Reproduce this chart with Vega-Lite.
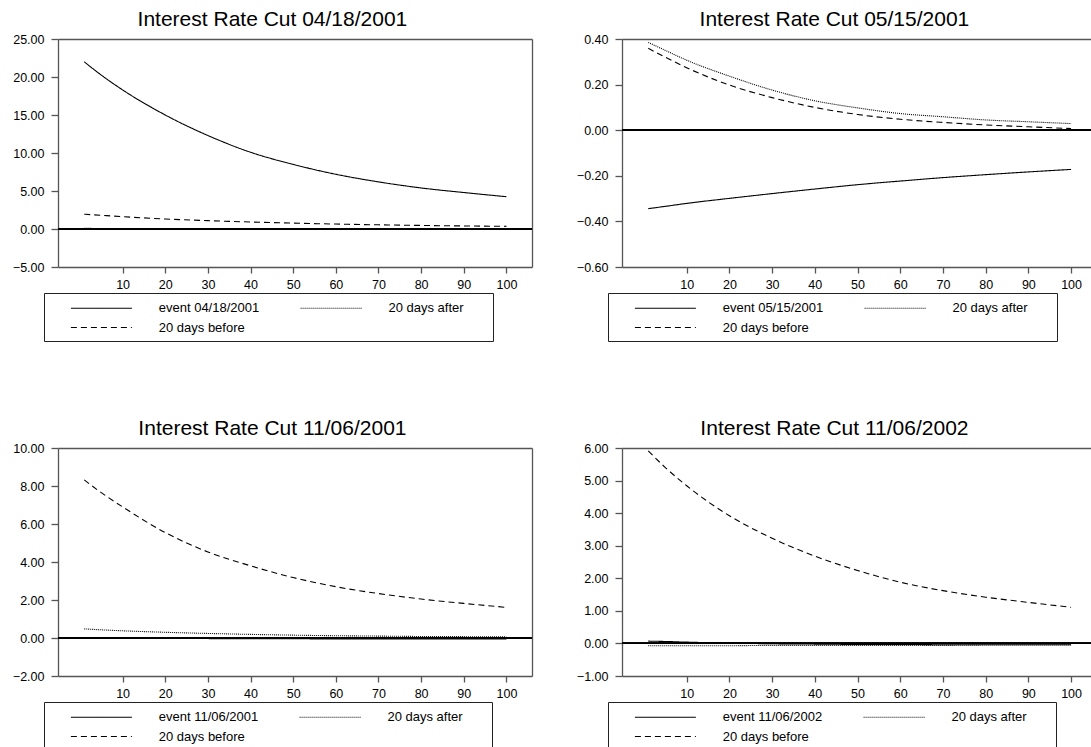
{
  "$schema": "https://vega.github.io/schema/vega-lite/v6.json",
  "background": "white",
  "padding": {"left": 12, "top": 9, "right": 0, "bottom": 0},
  "autosize": {"type": "pad"},
  "datasets": {
    "p1": [
      {"x": 1, "y": 22.0, "series": "event 04/18/2001"}, {"x": 5, "y": 20.25, "series": "event 04/18/2001"}, {"x": 10, "y": 18.3, "series": "event 04/18/2001"}, {"x": 20, "y": 15.0, "series": "event 04/18/2001"}, {"x": 30, "y": 12.3, "series": "event 04/18/2001"}, {"x": 40, "y": 10.1, "series": "event 04/18/2001"}, {"x": 50, "y": 8.5, "series": "event 04/18/2001"}, {"x": 60, "y": 7.2, "series": "event 04/18/2001"}, {"x": 70, "y": 6.2, "series": "event 04/18/2001"}, {"x": 80, "y": 5.4, "series": "event 04/18/2001"}, {"x": 90, "y": 4.8, "series": "event 04/18/2001"}, {"x": 100, "y": 4.25, "series": "event 04/18/2001"},
      {"x": 1, "y": 0.08, "series": "20 days after"}, {"x": 5, "y": 0.07, "series": "20 days after"}, {"x": 10, "y": 0.06, "series": "20 days after"}, {"x": 20, "y": 0.05, "series": "20 days after"}, {"x": 30, "y": 0.04, "series": "20 days after"}, {"x": 40, "y": 0.04, "series": "20 days after"}, {"x": 50, "y": 0.03, "series": "20 days after"}, {"x": 60, "y": 0.03, "series": "20 days after"}, {"x": 70, "y": 0.03, "series": "20 days after"}, {"x": 80, "y": 0.02, "series": "20 days after"}, {"x": 90, "y": 0.02, "series": "20 days after"}, {"x": 100, "y": 0.02, "series": "20 days after"},
      {"x": 1, "y": 1.95, "series": "20 days before"}, {"x": 5, "y": 1.8, "series": "20 days before"}, {"x": 10, "y": 1.62, "series": "20 days before"}, {"x": 20, "y": 1.32, "series": "20 days before"}, {"x": 30, "y": 1.1, "series": "20 days before"}, {"x": 40, "y": 0.92, "series": "20 days before"}, {"x": 50, "y": 0.77, "series": "20 days before"}, {"x": 60, "y": 0.65, "series": "20 days before"}, {"x": 70, "y": 0.55, "series": "20 days before"}, {"x": 80, "y": 0.47, "series": "20 days before"}, {"x": 90, "y": 0.4, "series": "20 days before"}, {"x": 100, "y": 0.35, "series": "20 days before"}
    ],
    "p2": [
      {"x": 1, "y": -0.344, "series": "event 05/15/2001"}, {"x": 5, "y": -0.334, "series": "event 05/15/2001"}, {"x": 10, "y": -0.321, "series": "event 05/15/2001"}, {"x": 20, "y": -0.299, "series": "event 05/15/2001"}, {"x": 30, "y": -0.278, "series": "event 05/15/2001"}, {"x": 40, "y": -0.258, "series": "event 05/15/2001"}, {"x": 50, "y": -0.239, "series": "event 05/15/2001"}, {"x": 60, "y": -0.223, "series": "event 05/15/2001"}, {"x": 70, "y": -0.208, "series": "event 05/15/2001"}, {"x": 80, "y": -0.195, "series": "event 05/15/2001"}, {"x": 90, "y": -0.183, "series": "event 05/15/2001"}, {"x": 100, "y": -0.172, "series": "event 05/15/2001"},
      {"x": 1, "y": 0.385, "series": "20 days after"}, {"x": 5, "y": 0.35, "series": "20 days after"}, {"x": 10, "y": 0.307, "series": "20 days after"}, {"x": 20, "y": 0.237, "series": "20 days after"}, {"x": 30, "y": 0.176, "series": "20 days after"}, {"x": 40, "y": 0.129, "series": "20 days after"}, {"x": 50, "y": 0.098, "series": "20 days after"}, {"x": 60, "y": 0.073, "series": "20 days after"}, {"x": 70, "y": 0.059, "series": "20 days after"}, {"x": 80, "y": 0.045, "series": "20 days after"}, {"x": 90, "y": 0.037, "series": "20 days after"}, {"x": 100, "y": 0.029, "series": "20 days after"},
      {"x": 1, "y": 0.359, "series": "20 days before"}, {"x": 5, "y": 0.32, "series": "20 days before"}, {"x": 10, "y": 0.274, "series": "20 days before"}, {"x": 20, "y": 0.198, "series": "20 days before"}, {"x": 30, "y": 0.143, "series": "20 days before"}, {"x": 40, "y": 0.1, "series": "20 days before"}, {"x": 50, "y": 0.069, "series": "20 days before"}, {"x": 60, "y": 0.048, "series": "20 days before"}, {"x": 70, "y": 0.034, "series": "20 days before"}, {"x": 80, "y": 0.023, "series": "20 days before"}, {"x": 90, "y": 0.015, "series": "20 days before"}, {"x": 100, "y": 0.007, "series": "20 days before"}
    ],
    "p3": [
      {"x": 1, "y": 0.02, "series": "event 11/06/2001"}, {"x": 5, "y": 0.01, "series": "event 11/06/2001"}, {"x": 10, "y": 0.0, "series": "event 11/06/2001"}, {"x": 20, "y": -0.02, "series": "event 11/06/2001"}, {"x": 30, "y": -0.03, "series": "event 11/06/2001"}, {"x": 40, "y": -0.04, "series": "event 11/06/2001"}, {"x": 50, "y": -0.04, "series": "event 11/06/2001"}, {"x": 60, "y": -0.05, "series": "event 11/06/2001"}, {"x": 70, "y": -0.05, "series": "event 11/06/2001"}, {"x": 80, "y": -0.05, "series": "event 11/06/2001"}, {"x": 90, "y": -0.05, "series": "event 11/06/2001"}, {"x": 100, "y": -0.05, "series": "event 11/06/2001"},
      {"x": 1, "y": 0.48, "series": "20 days after"}, {"x": 5, "y": 0.43, "series": "20 days after"}, {"x": 10, "y": 0.38, "series": "20 days after"}, {"x": 20, "y": 0.3, "series": "20 days after"}, {"x": 30, "y": 0.24, "series": "20 days after"}, {"x": 40, "y": 0.19, "series": "20 days after"}, {"x": 50, "y": 0.15, "series": "20 days after"}, {"x": 60, "y": 0.12, "series": "20 days after"}, {"x": 70, "y": 0.1, "series": "20 days after"}, {"x": 80, "y": 0.08, "series": "20 days after"}, {"x": 90, "y": 0.07, "series": "20 days after"}, {"x": 100, "y": 0.06, "series": "20 days after"},
      {"x": 1, "y": 8.32, "series": "20 days before"}, {"x": 5, "y": 7.65, "series": "20 days before"}, {"x": 10, "y": 6.9, "series": "20 days before"}, {"x": 20, "y": 5.55, "series": "20 days before"}, {"x": 30, "y": 4.53, "series": "20 days before"}, {"x": 40, "y": 3.8, "series": "20 days before"}, {"x": 50, "y": 3.18, "series": "20 days before"}, {"x": 60, "y": 2.7, "series": "20 days before"}, {"x": 70, "y": 2.34, "series": "20 days before"}, {"x": 80, "y": 2.05, "series": "20 days before"}, {"x": 90, "y": 1.82, "series": "20 days before"}, {"x": 100, "y": 1.61, "series": "20 days before"}
    ],
    "p4": [
      {"x": 1, "y": 0.07, "series": "event 11/06/2002"}, {"x": 5, "y": 0.06, "series": "event 11/06/2002"}, {"x": 10, "y": 0.04, "series": "event 11/06/2002"}, {"x": 20, "y": 0.01, "series": "event 11/06/2002"}, {"x": 30, "y": -0.01, "series": "event 11/06/2002"}, {"x": 40, "y": -0.02, "series": "event 11/06/2002"}, {"x": 50, "y": -0.03, "series": "event 11/06/2002"}, {"x": 60, "y": -0.03, "series": "event 11/06/2002"}, {"x": 70, "y": -0.04, "series": "event 11/06/2002"}, {"x": 80, "y": -0.04, "series": "event 11/06/2002"}, {"x": 90, "y": -0.04, "series": "event 11/06/2002"}, {"x": 100, "y": -0.04, "series": "event 11/06/2002"},
      {"x": 1, "y": -0.07, "series": "20 days after"}, {"x": 5, "y": -0.07, "series": "20 days after"}, {"x": 10, "y": -0.07, "series": "20 days after"}, {"x": 20, "y": -0.07, "series": "20 days after"}, {"x": 30, "y": -0.06, "series": "20 days after"}, {"x": 40, "y": -0.06, "series": "20 days after"}, {"x": 50, "y": -0.06, "series": "20 days after"}, {"x": 60, "y": -0.06, "series": "20 days after"}, {"x": 70, "y": -0.06, "series": "20 days after"}, {"x": 80, "y": -0.05, "series": "20 days after"}, {"x": 90, "y": -0.05, "series": "20 days after"}, {"x": 100, "y": -0.05, "series": "20 days after"},
      {"x": 1, "y": 5.91, "series": "20 days before"}, {"x": 5, "y": 5.4, "series": "20 days before"}, {"x": 10, "y": 4.84, "series": "20 days before"}, {"x": 20, "y": 3.92, "series": "20 days before"}, {"x": 30, "y": 3.23, "series": "20 days before"}, {"x": 40, "y": 2.68, "series": "20 days before"}, {"x": 50, "y": 2.24, "series": "20 days before"}, {"x": 60, "y": 1.88, "series": "20 days before"}, {"x": 70, "y": 1.62, "series": "20 days before"}, {"x": 80, "y": 1.42, "series": "20 days before"}, {"x": 90, "y": 1.26, "series": "20 days before"}, {"x": 100, "y": 1.11, "series": "20 days before"}
    ]
  },
  "columns": 2,
  "spacing": {"row": 76, "column": 43},
  "resolve": {"scale": {"strokeDash": "independent"}, "legend": {"strokeDash": "independent"}},
  "concat": [
    {
      "width": 474, "height": 228,
      "title": {"text": "Interest Rate Cut 04/18/2001"},
      "data": {"name": "p1"},
      "layer": [
        {
          "mark": {"type": "line", "color": "black", "strokeWidth": 1.1, "interpolate": "monotone"},
          "encoding": {
            "x": {"field": "x", "type": "quantitative", "scale": {"domain": [-5.15, 106], "nice": false, "zero": false}, "axis": {"orient": "bottom", "values": [10, 20, 30, 40, 50, 60, 70, 80, 90, 100], "title": null}},
            "y": {"field": "y", "type": "quantitative", "scale": {"domain": [-5, 25], "nice": false, "zero": false}, "axis": {"orient": "left", "values": [-5, 0, 5, 10, 15, 20, 25], "format": ".2f", "title": null}},
            "strokeDash": {"field": "series", "type": "nominal", "scale": {"domain": ["event 04/18/2001", "20 days after", "20 days before"], "range": [[1, 0], [1, 1], [6, 4]]}, "legend": {"orient": "none", "legendX": -14, "legendY": 254, "direction": "horizontal", "columns": 2, "gridAlign": "all", "title": "\u00a0", "titleOrient": "right", "titlePadding": 23}}
          }
        },
        {"mark": {"type": "rule", "color": "black", "strokeWidth": 1}, "encoding": {"y": {"datum": 0, "axis": null}}},
        {
          "mark": {"type": "line", "strokeOpacity": 0},
          "encoding": {
            "x": {"field": "x", "type": "quantitative", "axis": {"orient": "top", "labels": false, "ticks": false, "title": null}},
            "y": {"field": "y", "type": "quantitative", "axis": {"orient": "right", "labels": false, "ticks": false, "title": null}}
          }
        }
      ],
      "resolve": {"axis": {"x": "independent", "y": "independent"}}
    },
    {
      "width": 470, "height": 228,
      "title": {"text": "Interest Rate Cut 05/15/2001"},
      "data": {"name": "p2"},
      "layer": [
        {
          "mark": {"type": "line", "color": "black", "strokeWidth": 1.1, "interpolate": "monotone"},
          "encoding": {
            "x": {"field": "x", "type": "quantitative", "scale": {"domain": [-5.15, 104.9], "nice": false, "zero": false}, "axis": {"orient": "bottom", "values": [10, 20, 30, 40, 50, 60, 70, 80, 90, 100], "title": null}},
            "y": {"field": "y", "type": "quantitative", "scale": {"domain": [-0.6, 0.4], "nice": false, "zero": false}, "axis": {"orient": "left", "values": [-0.6, -0.4, -0.2, 0, 0.2, 0.4], "format": ".2f", "title": null}},
            "strokeDash": {"field": "series", "type": "nominal", "scale": {"domain": ["event 05/15/2001", "20 days after", "20 days before"], "range": [[1, 0], [1, 1], [6, 4]]}, "legend": {"orient": "none", "legendX": -14, "legendY": 254, "direction": "horizontal", "columns": 2, "gridAlign": "all", "title": "\u00a0", "titleOrient": "right", "titlePadding": 23}}
          }
        },
        {"mark": {"type": "rule", "color": "black", "strokeWidth": 1}, "encoding": {"y": {"datum": 0, "axis": null}}},
        {
          "mark": {"type": "line", "strokeOpacity": 0},
          "encoding": {
            "x": {"field": "x", "type": "quantitative", "axis": {"orient": "top", "labels": false, "ticks": false, "title": null}},
            "y": {"field": "y", "type": "quantitative", "axis": null}
          }
        }
      ],
      "resolve": {"axis": {"x": "independent", "y": "independent"}}
    },
    {
      "width": 474, "height": 228,
      "title": {"text": "Interest Rate Cut 11/06/2001"},
      "data": {"name": "p3"},
      "layer": [
        {
          "mark": {"type": "line", "color": "black", "strokeWidth": 1.1, "interpolate": "monotone"},
          "encoding": {
            "x": {"field": "x", "type": "quantitative", "scale": {"domain": [-5.15, 106], "nice": false, "zero": false}, "axis": {"orient": "bottom", "values": [10, 20, 30, 40, 50, 60, 70, 80, 90, 100], "title": null}},
            "y": {"field": "y", "type": "quantitative", "scale": {"domain": [-2, 10], "nice": false, "zero": false}, "axis": {"orient": "left", "values": [-2, 0, 2, 4, 6, 8, 10], "format": ".2f", "title": null}},
            "strokeDash": {"field": "series", "type": "nominal", "scale": {"domain": ["event 11/06/2001", "20 days after", "20 days before"], "range": [[1, 0], [1, 1], [6, 4]]}, "legend": {"orient": "none", "legendX": -14, "legendY": 254, "direction": "horizontal", "columns": 2, "gridAlign": "all", "title": "\u00a0", "titleOrient": "right", "titlePadding": 23}}
          }
        },
        {"mark": {"type": "rule", "color": "black", "strokeWidth": 1}, "encoding": {"y": {"datum": 0, "axis": null}}},
        {
          "mark": {"type": "line", "strokeOpacity": 0},
          "encoding": {
            "x": {"field": "x", "type": "quantitative", "axis": {"orient": "top", "labels": false, "ticks": false, "title": null}},
            "y": {"field": "y", "type": "quantitative", "axis": {"orient": "right", "labels": false, "ticks": false, "title": null}}
          }
        }
      ],
      "resolve": {"axis": {"x": "independent", "y": "independent"}}
    },
    {
      "width": 470, "height": 228,
      "title": {"text": "Interest Rate Cut 11/06/2002"},
      "data": {"name": "p4"},
      "layer": [
        {
          "mark": {"type": "line", "color": "black", "strokeWidth": 1.1, "interpolate": "monotone"},
          "encoding": {
            "x": {"field": "x", "type": "quantitative", "scale": {"domain": [-5.15, 104.9], "nice": false, "zero": false}, "axis": {"orient": "bottom", "values": [10, 20, 30, 40, 50, 60, 70, 80, 90, 100], "title": null}},
            "y": {"field": "y", "type": "quantitative", "scale": {"domain": [-1, 6], "nice": false, "zero": false}, "axis": {"orient": "left", "values": [-1, 0, 1, 2, 3, 4, 5, 6], "format": ".2f", "title": null}},
            "strokeDash": {"field": "series", "type": "nominal", "scale": {"domain": ["event 11/06/2002", "20 days after", "20 days before"], "range": [[1, 0], [1, 1], [6, 4]]}, "legend": {"orient": "none", "legendX": -14, "legendY": 254, "direction": "horizontal", "columns": 2, "gridAlign": "all", "title": "\u00a0", "titleOrient": "right", "titlePadding": 23}}
          }
        },
        {"mark": {"type": "rule", "color": "black", "strokeWidth": 1}, "encoding": {"y": {"datum": 0, "axis": null}}},
        {
          "mark": {"type": "line", "strokeOpacity": 0},
          "encoding": {
            "x": {"field": "x", "type": "quantitative", "axis": {"orient": "top", "labels": false, "ticks": false, "title": null}},
            "y": {"field": "y", "type": "quantitative", "axis": null}
          }
        }
      ],
      "resolve": {"axis": {"x": "independent", "y": "independent"}}
    }
  ],
  "config": {
    "view": {"stroke": null},
    "font": "Liberation Sans",
    "axis": {"domainColor": "#555", "domainWidth": 1.3, "tickColor": "#555", "tickWidth": 1.3, "labelColor": "black", "labelFontSize": 12.5, "labelFont": "Liberation Sans", "grid": false},
    "axisX": {"tickSize": 6, "labelPadding": 5},
    "axisY": {"tickSize": 7, "labelPadding": 7},
    "title": {"fontSize": 21, "font": "Liberation Sans", "fontWeight": "normal", "color": "black", "frame": "bounds", "anchor": "middle", "offset": 3},
    "legend": {"strokeColor": "#222", "padding": 6.5, "symbolType": "M-4,0H4", "symbolSize": 232.6, "symbolStrokeWidth": 1.1, "symbolStrokeColor": "black", "symbolOffset": 42.4, "labelOffset": 48.85, "columnPadding": 20.7, "rowPadding": 3.5, "labelFontSize": 13, "labelFont": "Liberation Sans", "labelColor": "black"}
  }
}
